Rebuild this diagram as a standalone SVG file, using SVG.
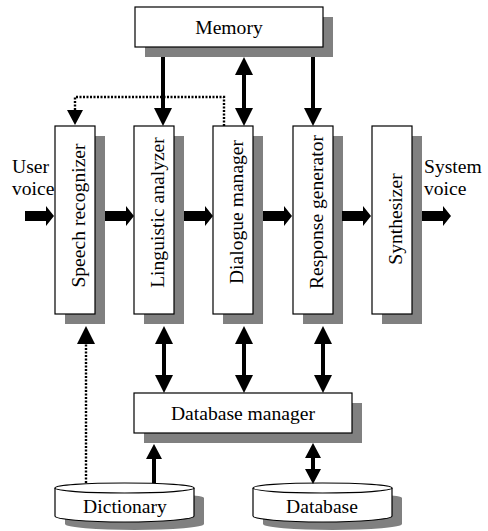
<svg xmlns="http://www.w3.org/2000/svg" width="488" height="531" viewBox="0 0 488 531">
<style>
.box{fill:#fff;stroke:#000;stroke-width:1.2}
.sh{fill:#808080}
.t{font-family:"Liberation Serif","Times New Roman",serif;font-size:19.6px;fill:#000}
.m{text-anchor:middle}
.ln{stroke:#000;stroke-width:4;fill:none}
.dot{stroke:#000;stroke-width:2.4;stroke-dasharray:2 1.5;fill:none}
</style>
<defs>
<marker id="ah" markerUnits="userSpaceOnUse" markerWidth="18" markerHeight="18" viewBox="0 0 18 18" refX="8" refY="9" orient="auto-start-reverse">
<path d="M0,0 L18,9 L0,18 z" fill="#000"/>
</marker>
<marker id="as" markerUnits="userSpaceOnUse" markerWidth="15" markerHeight="16" viewBox="0 0 15 16" refX="6" refY="8" orient="auto-start-reverse">
<path d="M0,0 L15,8 L0,16 z" fill="#000"/>
</marker>
<path id="fat" d="M0,-5 H21 V-10 L29,0 L21,10 V5 H0 z" fill="#000"/>
</defs>

<g id="memory">
<rect class="sh" x="145" y="17" width="188" height="40"/>
<rect class="box" x="135" y="7" width="188" height="40"/>
<text class="t m" x="229" y="34">Memory</text>
</g>

<g id="speech-recognizer">
<rect class="sh" x="65" y="136" width="40" height="188"/>
<rect class="box" x="55" y="126" width="40" height="188"/>
<text class="t m" transform="translate(85,215.5) rotate(-90)">Speech recognizer</text>
</g>
<g id="linguistic-analyzer">
<rect class="sh" x="144" y="136" width="40" height="188"/>
<rect class="box" x="134" y="126" width="40" height="188"/>
<text class="t m" transform="translate(164,212.5) rotate(-90)">Linguistic analyzer</text>
</g>
<g id="dialogue-manager">
<rect class="sh" x="223" y="136" width="40" height="188"/>
<rect class="box" x="213" y="126" width="40" height="188"/>
<text class="t m" transform="translate(243,212) rotate(-90)">Dialogue manager</text>
</g>
<g id="response-generator">
<rect class="sh" x="303" y="136" width="40" height="188"/>
<rect class="box" x="293" y="126" width="40" height="188"/>
<text class="t m" transform="translate(323,212) rotate(-90)">Response generator</text>
</g>
<g id="synthesizer">
<rect class="sh" x="382" y="136" width="40" height="188"/>
<rect class="box" x="372" y="126" width="40" height="188"/>
<text class="t m" transform="translate(402,219) rotate(-90)">Synthesizer</text>
</g>

<g id="database-manager">
<rect class="sh" x="144" y="403" width="218" height="40"/>
<rect class="box" x="134" y="393" width="218" height="40"/>
<text class="t m" x="243" y="420">Database manager</text>
</g>

<g id="dictionary">
<path class="sh" d="M65,498 A69.5,5 0 0 1 204,498 V524 A69.5,6 0 0 1 65,524 z"/>
<path class="box" d="M55,488 V516 A69.5,6 0 0 0 194,516 V488"/>
<ellipse class="box" cx="124.5" cy="488" rx="69.5" ry="5"/>
<text class="t m" x="125" y="513">Dictionary</text>
</g>
<g id="database">
<path class="sh" d="M263,498 A69.5,5 0 0 1 402,498 V524 A69.5,6 0 0 1 263,524 z"/>
<path class="box" d="M253,488 V516 A69.5,6 0 0 0 392,516 V488"/>
<ellipse class="box" cx="322.5" cy="488" rx="69.5" ry="5"/>
<text class="t m" x="322" y="513">Database</text>
</g>

<g id="labels">
<text class="t" x="12" y="173">User</text>
<text class="t" x="12" y="195">voice</text>
<text class="t" x="424" y="173">System</text>
<text class="t" x="424" y="195">voice</text>
</g>

<g id="connectors">
<use href="#fat" x="25" y="216"/>
<use href="#fat" x="105" y="216"/>
<use href="#fat" x="184" y="216"/>
<use href="#fat" x="263" y="216"/>
<use href="#fat" x="342" y="216"/>
<use href="#fat" x="422" y="216"/>

<line class="ln" x1="163" y1="57" x2="163" y2="116" marker-end="url(#ah)"/>
<line class="ln" x1="244" y1="67" x2="244" y2="116" marker-start="url(#ah)" marker-end="url(#ah)"/>
<line class="ln" x1="313" y1="57" x2="313" y2="116" marker-end="url(#ah)"/>
<path class="dot" d="M224,126 V97 H75 V116" marker-end="url(#as)"/>

<path class="dot" d="M86,483 V336" marker-end="url(#ah)"/>
<line class="ln" x1="164" y1="336" x2="164" y2="383" marker-start="url(#ah)" marker-end="url(#ah)"/>
<line class="ln" x1="244" y1="336" x2="244" y2="383" marker-start="url(#ah)" marker-end="url(#ah)"/>
<line class="ln" x1="323" y1="336" x2="323" y2="383" marker-start="url(#ah)" marker-end="url(#ah)"/>
<line class="ln" x1="154" y1="483" x2="154" y2="453" marker-end="url(#as)"/>
<line class="ln" x1="313" y1="452" x2="313" y2="475" marker-start="url(#as)" marker-end="url(#as)"/>
</g>
</svg>
